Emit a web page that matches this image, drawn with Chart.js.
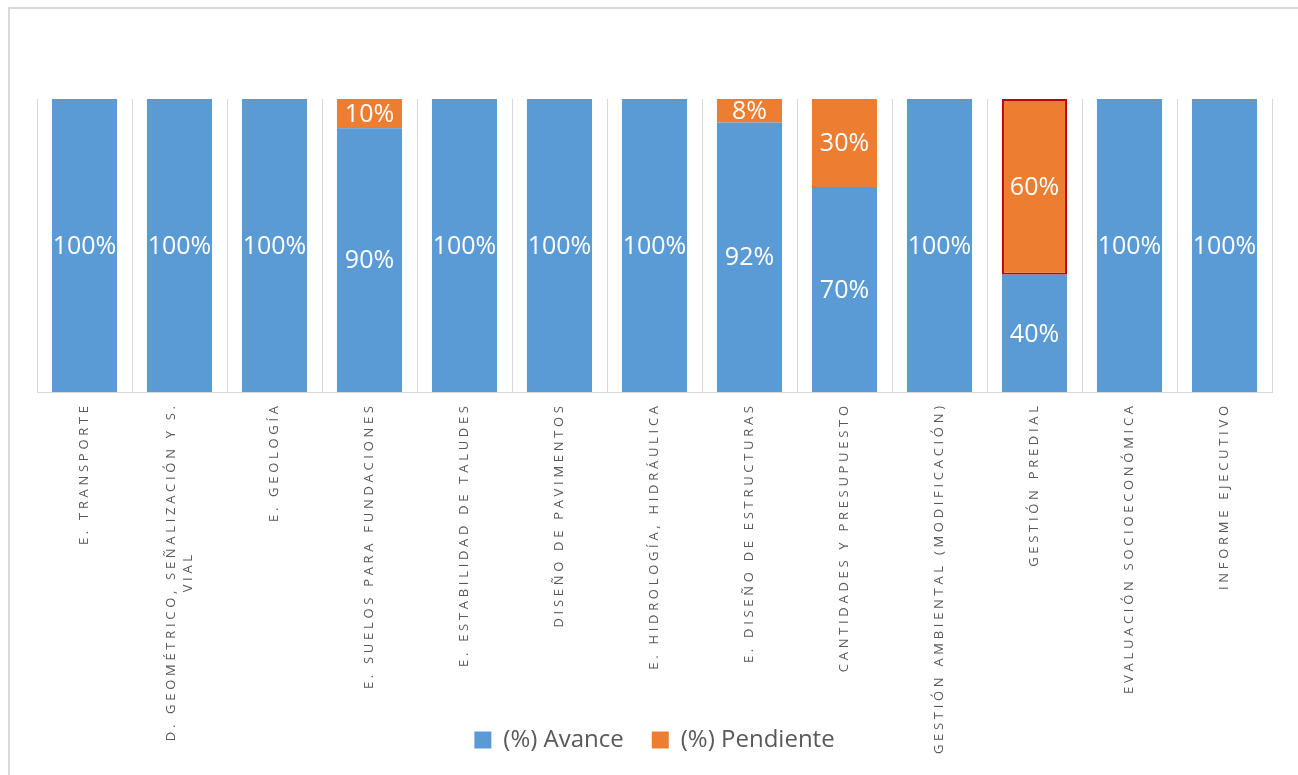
<!DOCTYPE html>
<html>
<head>
<meta charset="utf-8">
<script src="https://cdn.jsdelivr.net/npm/chart.js@4/dist/chart.umd.min.js"></script>
<style>
  html, body { margin: 0; padding: 0; background: #fff; overflow: hidden; }
  #frame { position: absolute; left: 8px; top: 7px; width: 1400px; height: 900px; border: 2px solid #d9d9d9; }
  #chart { position: absolute; left: 0; top: 0; }
</style>
</head>
<body>
<div id="frame"></div>
<canvas id="chart" width="1298" height="775"></canvas>
<script>
/* ---- data ---- */
const categories = [
  ['E. TRANSPORTE'],
  ['D. GEOMÉTRICO, SEÑALIZACIÓN Y S.', 'VIAL'],
  ['E. GEOLOGÍA'],
  ['E. SUELOS PARA FUNDACIONES'],
  ['E. ESTABILIDAD DE TALUDES'],
  ['DISEÑO DE PAVIMENTOS'],
  ['E. HIDROLOGÍA, HIDRÁULICA'],
  ['E. DISEÑO DE ESTRUCTURAS'],
  ['CANTIDADES Y PRESUPUESTO'],
  ['GESTIÓN AMBIENTAL (MODIFICACIÓN)'],
  ['GESTIÓN PREDIAL'],
  ['EVALUACIÓN SOCIOECONÓMICA'],
  ['INFORME EJECUTIVO'],
];
const avance    = [100, 100, 100, 90, 100, 100, 100, 92, 70, 100, 40, 100, 100];
const pendiente = [0, 0, 0, 10, 0, 0, 0, 8, 30, 0, 60, 0, 0];
const seriesNames = ['(%) Avance', '(%) Pendiente'];

const BLUE = '#5b9bd5';
const ORANGE = '#ed7d31';
const GREY_TEXT = '#595959';
const HIGHLIGHT = 10; // Gestión predial, outlined in red

/* ---- in-bar percentage labels ---- */
const barValueLabels = {
  id: 'barValueLabels',
  afterDatasetsDraw(chart) {
    const ctx = chart.ctx;
    ctx.save();
    ctx.font = '25px "Open Sans"';
    ctx.fillStyle = '#fff';
    ctx.textAlign = 'center';
    ctx.textBaseline = 'middle';
    chart.data.datasets.forEach((ds, di) => {
      const meta = chart.getDatasetMeta(di);
      meta.data.forEach((bar, i) => {
        const v = ds.data[i];
        if (!v) return;
        ctx.fillText(v + '%', bar.x, (bar.y + bar.base) / 2 + 1);
      });
    });
    ctx.restore();
  }
};

/* ---- rotated, letter-spaced category labels ---- */
const categoryLabels = {
  id: 'categoryLabels',
  afterDraw(chart) {
    const ctx = chart.ctx;
    const xs = chart.scales.x;
    const y0 = xs.top + 14;
    const lineH = 17;
    const sp = 3.7;
    ctx.save();
    ctx.font = '13px "Open Sans"';
    ctx.letterSpacing = sp + 'px';
    ctx.fillStyle = GREY_TEXT;
    ctx.textAlign = 'center';
    ctx.textBaseline = 'middle';
    categories.forEach((lines, i) => {
      const x = xs.getPixelForValue(i);
      const maxW = Math.max(...lines.map(l => ctx.measureText(l).width)) - sp;
      lines.forEach((line, j) => {
        const off = (j - (lines.length - 1) / 2) * lineH;
        ctx.save();
        ctx.translate(x + off, y0 + maxW / 2);
        ctx.rotate(-Math.PI / 2);
        ctx.fillText(line, sp / 2, 0);
        ctx.restore();
      });
    });
    ctx.restore();
  }
};

new Chart(document.getElementById('chart'), {
  type: 'bar',
  data: {
    labels: categories,
    datasets: [
      {
        label: seriesNames[0],
        data: avance,
        backgroundColor: BLUE,
        borderWidth: 0,
        barPercentage: 0.685,
        categoryPercentage: 1,
      },
      {
        label: seriesNames[1],
        data: pendiente,
        backgroundColor: ORANGE,
        borderColor: pendiente.map((_, i) => i === HIGHLIGHT ? '#c00000' : ORANGE),
        borderWidth: pendiente.map((_, i) => i === HIGHLIGHT ? 2 : 0),
        borderSkipped: false,
        barPercentage: 0.685,
        categoryPercentage: 1,
      },
    ],
  },
  options: {
    responsive: false,
    animation: false,
    devicePixelRatio: 1,
    layout: { padding: { top: 99, left: 37, right: 26, bottom: 13 } },
    plugins: {
      tooltip: { enabled: false },
      legend: {
        position: 'bottom',
        labels: {
          boxWidth: 17,
          boxHeight: 17,
          padding: 28,
          color: GREY_TEXT,
          font: { size: 24, family: '"Open Sans"' },
        },
      },
    },
    scales: {
      x: {
        stacked: true,
        grid: { color: '#d9d9d9', drawTicks: false, offset: true },
        border: { color: '#d9d9d9' },
        ticks: { display: false },
        afterFit: s => { s.height = 308; },
      },
      y: {
        stacked: true,
        min: 0,
        max: 100,
        display: false,
      },
    },
  },
  plugins: [barValueLabels, categoryLabels],
});
</script>
</body>
</html>
